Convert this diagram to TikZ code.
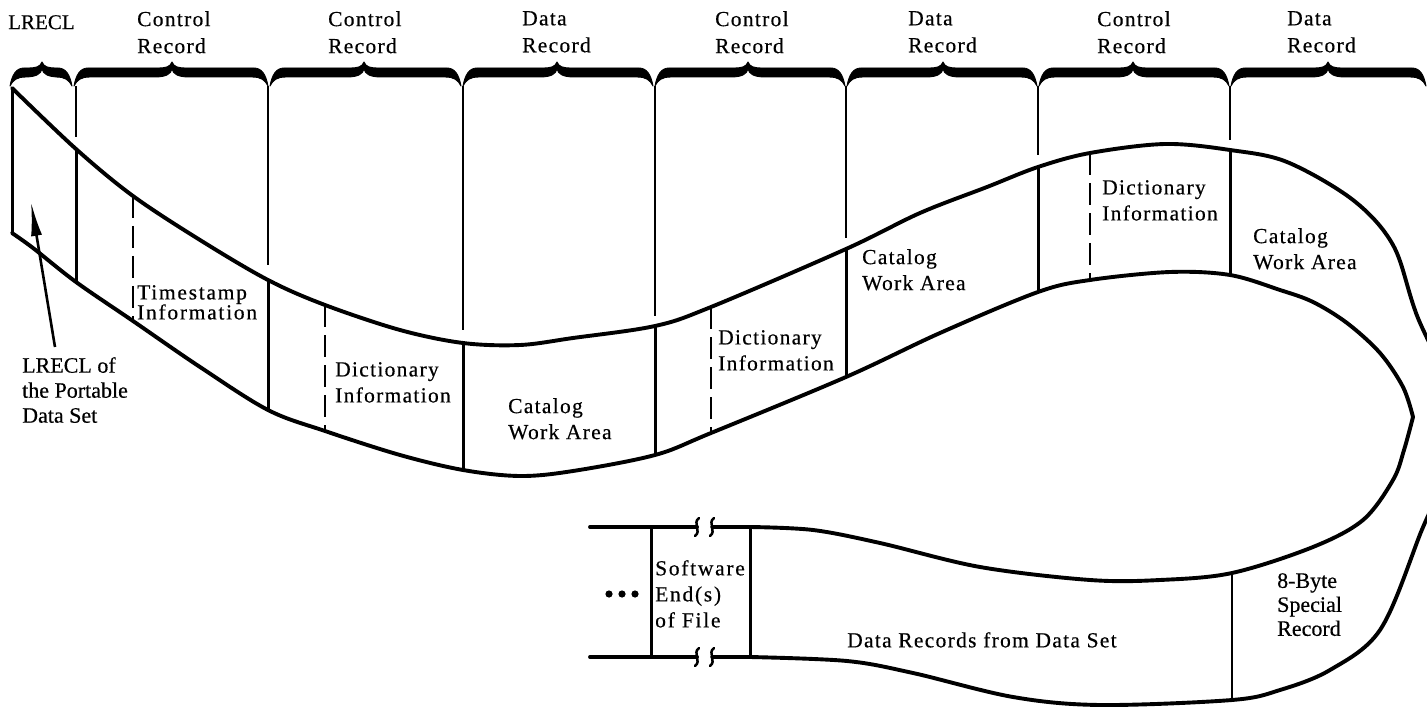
\documentclass[tikz,border=0pt]{standalone}
\usepackage{fontspec}
\setmainfont{Liberation Serif}[LetterSpace=6, FakeBold=0.4]
\newfontfamily\plainserif{Liberation Serif}[FakeBold=0.4]
\newfontfamily\widespaced{Liberation Serif}[LetterSpace=8, FakeBold=0.4]
\usetikzlibrary{arrows.meta}

\tikzset{
  edge/.style={line width=3.9pt, line join=round, line cap=round},
  bound/.style={line width=3pt},
  extline/.style={line width=2.6pt},
  dashln/.style={line width=2.5pt, dash pattern=on 22pt off 8pt},
  squig/.style={line width=2.5pt, line cap=round},
  lbl/.style={anchor=north west, inner sep=0pt, align=left,
    font=\fontsize{21.5}{26}\selectfont},
  toplbl/.style={lbl, font=\fontsize{21.5}{27}\selectfont},
  plainlbl/.style={anchor=north west, inner sep=0pt, align=left,
    font=\plainserif\fontsize{22}{25}\selectfont},
  widelbl/.style={anchor=north west, inner sep=0pt, align=left,
    font=\widespaced\fontsize{21.5}{20}\selectfont},
}

% heavy curly brace over one record: left end, tip, right end
\newcommand\recbrace[3]{%
  \filldraw[line width=0.9pt, line join=round]
    (#1,86) .. controls (#1+2,75) and (#1+6,68) .. (#1+14,68)
    -- (#2-15,68) .. controls (#2-6,68) and (#2-2,67) .. (#2,62)
    .. controls (#2+2,67) and (#2+6,68) .. (#2+15,68)
    -- (#3-14,68) .. controls (#3-6,68) and (#3-2,75) .. (#3,86)
    .. controls (#3-3,80) and (#3-7,77) .. (#3-16,77)
    -- (#2+17,77) .. controls (#2+6,77) and (#2+1,74) .. (#2,69)
    .. controls (#2-1,74) and (#2-6,77) .. (#2-17,77)
    -- (#1+16,77) .. controls (#1+7,77) and (#1+3,80) .. (#1,86) -- cycle;}

% small break mark on a straight tape edge
\newcommand\breakmark[2]{%
  \draw[squig] (#1+2,#2-9) .. controls (#1-5,#2-4) and (#1+5,#2+4) .. (#1-2,#2+9);}

\begin{document}
\begin{tikzpicture}[x=1pt, y=-1pt]
\useasboundingbox (0,0) rectangle (1427,711);
\clip (0,0) rectangle (1427,711);

% ---- braces over the records
\recbrace{10}{42}{72}
\recbrace{74}{172}{268}
\recbrace{270}{364}{461}
\recbrace{463}{557}{653}
\recbrace{655}{748}{845}
\recbrace{847}{943}{1037}
\recbrace{1039}{1133}{1229}
\recbrace{1231}{1328}{1426}

% ---- record labels
\node[plainlbl, font=\plainserif\fontsize{21}{25}\selectfont] (lrecl) at (8,15) {LRECL};
\node[toplbl] (cr1) at (137,11) {Control\\Record};
\node[toplbl] (cr2) at (328,11) {Control\\Record};
\node[toplbl] (dr1) at (522,11) {Data\\Record};
\node[toplbl] (cr3) at (715,11) {Control\\Record};
\node[toplbl] (dr2) at (908,11) {Data\\Record};
\node[toplbl] (cr4) at (1097,11) {Control\\Record};
\node[toplbl] (dr3) at (1287,11) {Data\\Record};

% ---- extension lines from the braces down to the tape
\foreach \xx/\yy in {76/137, 268/265, 463/330, 655/316, 846/238, 1038/155, 1230/140}
  \draw[extline] (\xx,86) -- (\xx,\yy);

% ---- outer edge of the tape, round the loop and back along the bottom
\draw[edge] plot[smooth, tension=0.55] coordinates {
  (12,88) (76,149) (133,196) (200,240) (268,280) (325,305) (400,330)
  (463,343) (520,345) (573,338) (655,326) (711,307) (846,249) (920,213)
  (987,187) (1038,167) (1090,153) (1165,144) (1230,150) (1287,162)
  (1353,200) (1393,245) (1416,313) (1458,425) (1419,537) (1380,630)
  (1330,670) (1280,690) (1232,700) (1100,705) (1013,697) (913,673)
  (847,661) (750,657)} -- (712,657);
\draw[edge] (697,657) -- (590,657);

% ---- inner edge of the tape up to the fold
\draw[edge] plot[smooth, tension=0.55] coordinates {
  (12,233) (33,248) (76,282) (133,321) (200,367) (268,410) (325,431)
  (400,455) (463,470) (520,476) (573,471) (655,455) (711,433) (846,377)
  (940,333) (1038,292) (1090,280) (1170,272) (1230,275) (1280,290)
  (1313,302) (1347,323) (1380,353) (1403,387) (1413,417)};

% ---- inner edge after the fold
\draw[edge] plot[smooth, tension=0.55] coordinates {
  (1413,417) (1404,450) (1393,480) (1363,520) (1313,547) (1232,573)
  (1160,580) (1090,580) (980,567) (880,543) (813,530) (750,527)} -- (712,527);
\draw[edge] (697,527) -- (590,527);

% ---- break marks
\breakmark{697}{527}
\breakmark{712}{527}
\breakmark{697}{657}
\breakmark{712}{657}

% ---- tape end and record boundaries
\draw[bound] (12,88) -- (12,233);
\foreach \xx/\ya/\yb in {76/149/282, 268/280/410, 463/343/470, 655/326/455,
    846/249/377, 1038/167/292, 1230/150/275}
  \draw[bound] (\xx,\ya) -- (\xx,\yb);
\foreach \xx/\ya/\yb in {133/196/321, 325/305/431, 711/307/433, 1090/153/280}
  \draw[dashln] (\xx,\ya) -- (\xx,\yb);
\draw[bound] (651,527) -- (651,657);
\draw[bound] (750,527) -- (750,657);
\draw[bound, line width=2.4pt] (1232,573) -- (1232,700);

% ---- field labels on the tape
\node[widelbl] (ts) at (137,285) {Timestamp\\Information};
\node[lbl] (di1) at (335,362) {Dictionary\\Information};
\node[lbl] (cw1) at (508,398) {Catalog\\Work Area};
\node[lbl] (di2) at (718,330) {Dictionary\\Information};
\node[lbl] (cw2) at (862,249) {Catalog\\Work Area};
\node[lbl] (di3) at (1102,180) {Dictionary\\Information};
\node[lbl] (cw3) at (1253,228) {Catalog\\Work Area};
\node[plainlbl, font=\plainserif\fontsize{22}{24}\selectfont] (sp) at (1277,573) {8-Byte\\Special\\Record};
\node[lbl] (drs) at (847,632) {Data Records from Data Set};
\node[widelbl, font=\widespaced\fontsize{21.5}{26}\selectfont] (eof) at (655,560) {Software\\End(s)\\of File};

% ---- continuation dots
\foreach \xx in {609,622,635}
  \fill (\xx,594) circle (3.6pt);

% ---- pointer to the LRECL field
\node[plainlbl] (lrlbl) at (22,357) {LRECL of\\the Portable\\Data Set};
\coordinate (lrtail) at (55,347);
\coordinate (lrtip) at (31,202);
\draw[line width=2.6pt, -{Latex[length=34pt, width=11pt]}] (lrtail) -- (lrtip);
\end{tikzpicture}
\end{document}
